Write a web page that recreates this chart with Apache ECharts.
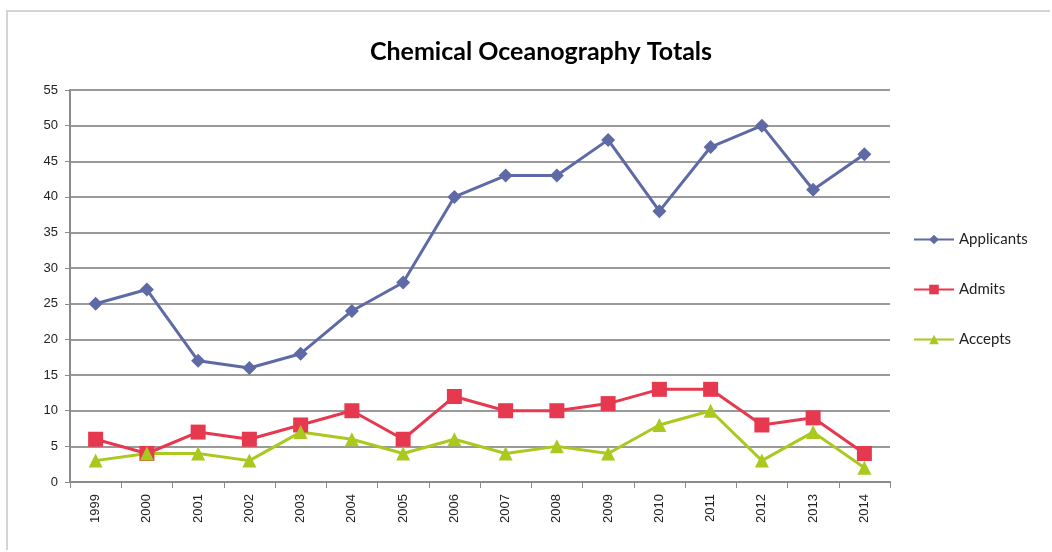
<!DOCTYPE html>
<html>
<head>
<meta charset="utf-8">
<script src="https://cdn.jsdelivr.net/npm/echarts@6/dist/echarts.min.js"></script>
<style>
  html, body { margin: 0; padding: 0; background: #fff; }
  #frame { position: absolute; left: 6px; top: 10px; width: 1044px; height: 540px; border: 2px solid #d4d4d4; border-right: none; border-bottom: none; box-sizing: border-box; }
  #chart { width: 1052px; height: 552px; }
</style>
</head>
<body>
<div id="frame"></div>
<div id="chart"></div>
<script>
const years = ['1999', '2000', '2001', '2002', '2003', '2004', '2005', '2006',
    '2007', '2008', '2009', '2010', '2011', '2012', '2013', '2014'];
const applicants = [25, 27, 17, 16, 18, 24, 28, 40, 43, 43, 48, 38, 47, 50, 41, 46];
const admits = [6, 4, 7, 6, 8, 10, 6, 12, 10, 10, 11, 13, 13, 8, 9, 4];
const accepts = [3, 4, 4, 3, 7, 6, 4, 6, 4, 5, 4, 8, 10, 3, 7, 2];

const chart = echarts.init(document.getElementById('chart'));

// helper so the three series share the same look
const makeSeries = (name, data, color, symbol, size) => ({
    name,
    type: 'line',
    data,
    symbol,
    symbolSize: size,
    lineStyle: { color, width: 3 },
    itemStyle: { color },
    z: 3,
});

chart.setOption({
    animation: false,
    textStyle: { fontFamily: 'Lato, "Open Sans", sans-serif' },
    title: {
        text: 'Chemical Oceanography Totals',
        left: 536,
        top: 34,
        textAlign: 'center',
        textStyle: { fontSize: 25, fontWeight: 'bold', color: '#000', fontFamily: 'Lato, "Open Sans", sans-serif' },
    },
    legend: {
        orient: 'vertical',
        left: 908,
        top: 227,
        itemGap: 35,
        itemWidth: 40,
        itemHeight: 12,
        textStyle: { fontSize: 15, color: '#222' },
        data: ['Applicants', 'Admits', 'Accepts'],
    },
    grid: { left: 70, right: 162, top: 90, bottom: 70 },
    xAxis: {
        type: 'category',
        data: years,
        boundaryGap: true,
        axisLine: { lineStyle: { color: '#8a8a8a', width: 2 } },
        axisTick: { show: true, length: 6, lineStyle: { color: '#8a8a8a' } },
        axisLabel: { rotate: 90, color: '#222', fontSize: 13, fontFamily: 'Arial, "Liberation Sans", sans-serif', margin: 12 },
    },
    yAxis: {
        type: 'value',
        min: 0,
        max: 55,
        interval: 5,
        axisLine: { show: true, lineStyle: { color: '#8a8a8a', width: 2 } },
        axisTick: { show: true, length: 5, lineStyle: { color: '#8a8a8a' } },
        axisLabel: { color: '#222', fontSize: 13, fontFamily: 'Arial, "Liberation Sans", sans-serif', margin: 12 },
        splitLine: { lineStyle: { color: '#9a9a9a', width: 2 } },
    },
    series: [
        makeSeries('Applicants', applicants, '#5e6aa6', 'diamond', 14),
        makeSeries('Admits', admits, '#e6394f', 'rect', 15),
        makeSeries('Accepts', accepts, '#a9c91e', 'triangle', 14),
    ],
});
</script>
</body>
</html>
